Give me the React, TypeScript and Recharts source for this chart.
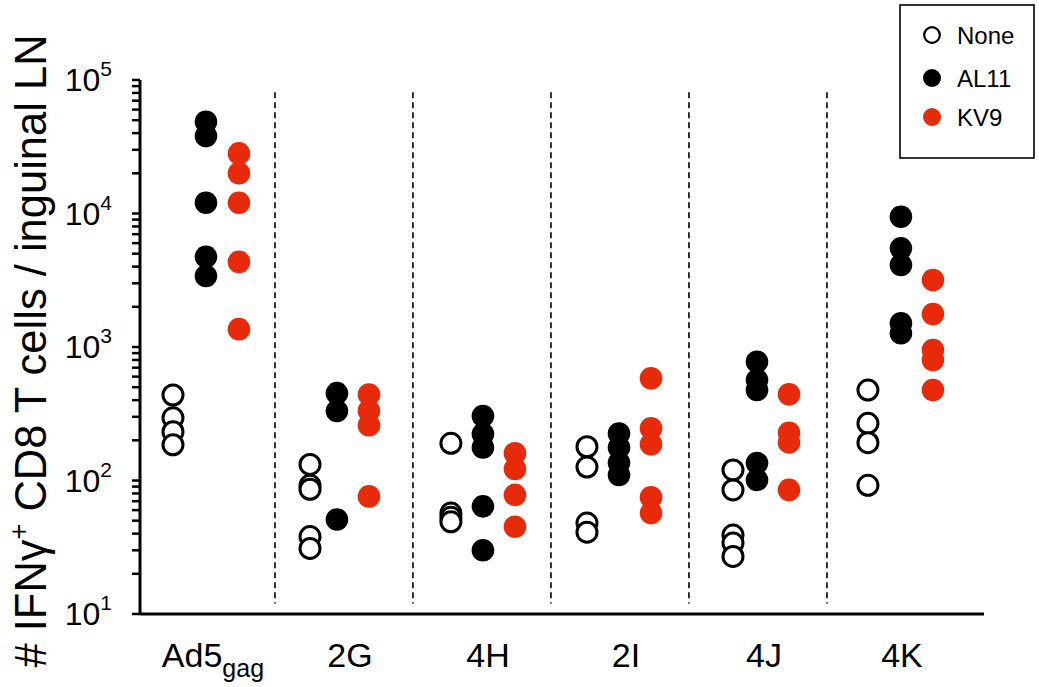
import React from 'react';
import { ScatterChart, Scatter, XAxis, YAxis, ReferenceLine, Legend } from 'recharts';

// ---------- data ----------
const categories = ['Ad5gag', '2G', '4H', '2I', '4J', '4K'];

const noneValues: number[][] = [
  [437, 295, 232, 185],
  [132, 92, 86, 38, 31],
  [190, 57, 53, 49],
  [179, 126, 48, 41],
  [120, 85, 39, 34, 27],
  [476, 268, 192, 92],
];
const al11Values: number[][] = [
  [48700, 38000, 12050, 4740, 3400],
  [451, 332, 51],
  [304, 223, 177, 64, 30],
  [225, 177, 136, 110],
  [776, 566, 476, 135, 101],
  [9460, 5480, 4110, 1507, 1268],
];
const kv9Values: number[][] = [
  [28200, 20000, 12050, 4340, 1360],
  [440, 333, 259, 76],
  [160, 122, 78, 45],
  [583, 246, 187, 75, 57],
  [443, 228, 193, 85],
  [3180, 1766, 950, 800, 476],
];

const seriesNames = ['None', 'AL11', 'KV9'];
const majorTicks = [10, 100, 1000, 10000, 100000];
const minorMultipliers = [2, 3, 4, 5, 6, 7, 8, 9];

// ---------- layout / style ----------
const W = 1039;
const H = 687;
const RED = '#E62A0A';
const FONT = '"Liberation Sans", Arial, Helvetica, sans-serif';
// horizontal placement of each series inside its category slot (fraction of slot)
const OFFSETS: number[][] = [
  [0.261, 0.254, 0.275, 0.261, 0.319, 0.297],
  [0.5, 0.449, 0.507, 0.493, 0.493, 0.536],
  [0.739, 0.681, 0.739, 0.725, 0.725, 0.768],
];
const X_DOMAIN: [number, number] = [0.022, 6.138];
const DIVIDER_TOP = 81000;
const DIVIDER_BOTTOM = 12;

const buildSeries = (vals: number[][], s: number) =>
  vals.flatMap((arr, ci) => arr.map((v) => ({ x: ci + OFFSETS[s][ci], y: v, cat: categories[ci] })));

const noneData = buildSeries(noneValues, 0);
const al11Data = buildSeries(al11Values, 1);
const kv9Data = buildSeries(kv9Values, 2);

const yTicks: number[] = [];
majorTicks.forEach((m, i) => {
  yTicks.push(m);
  if (i < majorTicks.length - 1) minorMultipliers.forEach((k) => yTicks.push(m * k));
});
const xTicks = categories.map((_, i) => i + 0.5);

const OpenDot = (p: any) => (
  <circle cx={p.cx} cy={p.cy} r={10} fill="#fff" stroke="#000" strokeWidth={3} />
);
const BlackDot = (p: any) => <circle cx={p.cx} cy={p.cy} r={11.3} fill="#000" />;
const RedDot = (p: any) => <circle cx={p.cx} cy={p.cy} r={11.3} fill={RED} />;

const YTick = (props: any) => {
  const { x, y, payload } = props;
  const v = payload.value;
  const e = Math.round(Math.log10(v));
  const isMajor = Math.abs(Math.pow(10, e) - v) < 1e-6;
  // x is the label anchor: axis - tickSize - tickMargin
  const axisX = x + 28;
  return (
    <g>
      <line x1={axisX - 8} x2={axisX} y1={y} y2={y} stroke="#000" strokeWidth={2.5} />
      {isMajor && (
        <text x={x} y={y} dy={11} textAnchor="end" fontFamily={FONT} fontSize={32} fill="#000">
          10
          <tspan fontSize={21} dy={-15}>
            {e}
          </tspan>
        </text>
      )}
    </g>
  );
};

const XTick = (props: any) => {
  const { x, y, payload } = props;
  const idx = Math.round(payload.value - 0.5);
  const label = categories[idx];
  if (label === 'Ad5gag') {
    return (
      <text x={x + 7} y={y} dy={45} textAnchor="middle" fontFamily={FONT} fontSize={34} fill="#000">
        Ad5
        <tspan fontSize={25} dy={10}>
          gag
        </tspan>
      </text>
    );
  }
  return (
    <text x={x + 6} y={y} dy={45} textAnchor="middle" fontFamily={FONT} fontSize={34} fill="#000">
      {label}
    </text>
  );
};

const LegendBox = () => {
  const items = [
    { name: seriesNames[0], fill: '#fff', stroke: '#000' },
    { name: seriesNames[1], fill: '#000', stroke: 'none' },
    { name: seriesNames[2], fill: RED, stroke: 'none' },
  ];
  const rowsY = [31, 74, 113];
  return (
    <svg width={137} height={156} style={{ display: 'block' }}>
      <rect x={1} y={1} width={134} height={153} fill="#fff" stroke="#000" strokeWidth={1.6} />
      {items.map((it, i) => (
        <g key={it.name}>
          <circle
            cx={33}
            cy={rowsY[i]}
            r={it.stroke === 'none' ? 9 : 7.8}
            fill={it.fill}
            stroke={it.stroke}
            strokeWidth={2.2}
          />
          <text x={58} y={rowsY[i] + 8.5} fontFamily={FONT} fontSize={24} fill="#000">
            {it.name}
          </text>
        </g>
      ))}
    </svg>
  );
};

export default function App() {
  return (
    <div style={{ position: 'relative', width: W, height: H, background: '#fff' }}>
      <style>{'body{margin:0;background:#fff}'}</style>
      <ScatterChart width={W} height={H} margin={{ top: 80, right: 55, bottom: 0, left: 0 }}>
        <XAxis
          type="number"
          dataKey="x"
          domain={X_DOMAIN}
          ticks={xTicks}
          allowDataOverflow
          height={73}
          axisLine={{ stroke: '#000', strokeWidth: 3 }}
          tickLine={false}
          tick={<XTick />}
          interval={0}
        />
        <YAxis
          type="number"
          dataKey="y"
          scale="log"
          domain={[10, 100000]}
          ticks={yTicks}
          allowDataOverflow
          width={140}
          interval={0}
          axisLine={{ stroke: '#000', strokeWidth: 3 }}
          tickLine={false}
          tickSize={8}
          tickMargin={20}
          tick={<YTick />}
          label={{
            content: () => (
              <text
                x={46}
                y={351}
                transform="rotate(-90, 46, 351)"
                textAnchor="middle"
                fontFamily={FONT}
                fontSize={43.5}
                fill="#000"
              >
                # IFNγ
                <tspan fontSize={27} dy={-18}>
                  +
                </tspan>
                <tspan dy={18}> CD8 T cells / inguinal LN</tspan>
              </text>
            ),
          }}
        />
        {[1, 2, 3, 4, 5].map((b) => (
          <ReferenceLine
            key={b}
            segment={[
              { x: b, y: DIVIDER_TOP },
              { x: b, y: DIVIDER_BOTTOM },
            ]}
            stroke="#000"
            strokeWidth={1.6}
            strokeDasharray="6 4"
          />
        ))}
        <Legend
          layout="horizontal"
          verticalAlign="middle"
          align="center"
          wrapperStyle={{ position: 'absolute', left: 899, top: 4, width: 137, height: 156 }}
          content={() => <LegendBox />}
        />
        <Scatter name="None" data={noneData} shape={OpenDot} isAnimationActive={false} />
        <Scatter name="AL11" data={al11Data} shape={BlackDot} isAnimationActive={false} />
        <Scatter name="KV9" data={kv9Data} shape={RedDot} isAnimationActive={false} />
      </ScatterChart>
    </div>
  );
}
